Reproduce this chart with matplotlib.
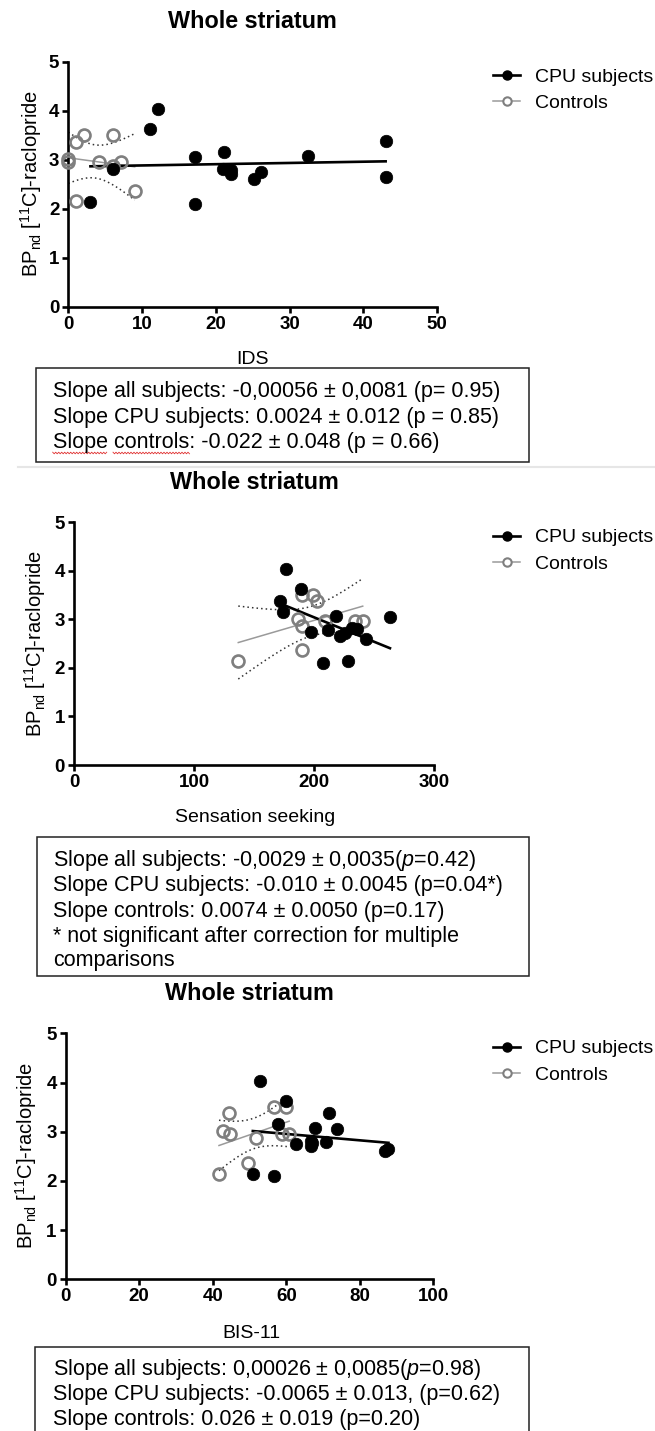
import numpy as np
import matplotlib
matplotlib.use("Agg")
import matplotlib.pyplot as plt
from matplotlib.lines import Line2D
from matplotlib.patches import Rectangle

plt.rcParams['font.family'] = ['Liberation Sans', 'DejaVu Sans']
plt.rcParams['mathtext.fontset'] = 'custom'
plt.rcParams['mathtext.rm'] = 'Liberation Sans'
plt.rcParams['mathtext.it'] = 'Liberation Sans:italic'
plt.rcParams['mathtext.bf'] = 'Liberation Sans:bold'

# ---------------- data ----------------
# Panel 1: IDS
ids_cpu_x = [3.0, 6.1, 11.1, 12.1, 17.2, 17.2, 21.1, 21.0, 22.0, 22.0, 25.1, 26.1, 32.5, 43.0, 43.0]
ids_cpu_y = [2.14, 2.82, 3.62, 4.03, 3.05, 2.10, 3.16, 2.81, 2.79, 2.71, 2.60, 2.75, 3.07, 3.38, 2.65]
ids_ctl_x = [0.0, 0.0, 1.0, 1.1, 2.1, 4.1, 6.0, 6.1, 7.1, 9.0]
ids_ctl_y = [3.01, 2.96, 2.15, 3.36, 3.50, 2.96, 2.87, 3.50, 2.96, 2.37]

# Panel 2: Sensation seeking
ss_cpu_x = [171.7, 174.4, 176.4, 189.4, 197.5, 207.5, 211.9, 218.1, 221.7, 225.8, 228.2, 231.4, 235.6, 243.3, 263.3]
ss_cpu_y = [3.38, 3.16, 4.03, 3.63, 2.75, 2.10, 2.78, 3.07, 2.65, 2.71, 2.14, 2.82, 2.80, 2.60, 3.05]
ss_ctl_x = [189.7, 199.4, 202.8, 186.4, 189.7, 190.3, 136.9, 209.2, 234.2, 240.6]
ss_ctl_y = [3.50, 3.50, 3.37, 3.01, 2.87, 2.37, 2.14, 2.96, 2.96, 2.96]

# Panel 3: BIS-11
bis_cpu_x = [52.9, 59.8, 71.7, 57.7, 67.8, 73.7, 62.6, 66.7, 66.7, 70.8, 87.8, 86.9, 50.9, 56.8, 67.0]
bis_cpu_y = [4.03, 3.63, 3.38, 3.16, 3.07, 3.05, 2.75, 2.82, 2.71, 2.80, 2.65, 2.60, 2.14, 2.10, 2.78]
bis_ctl_x = [44.5, 42.7, 44.7, 51.8, 49.7, 41.7, 56.8, 59.9, 58.8, 60.8]
bis_ctl_y = [3.37, 3.01, 2.96, 2.87, 2.37, 2.14, 3.50, 3.50, 2.96, 2.96]

x_labels = ["IDS", "Sensation seeking", "BIS-11"]
x_limits = [50, 300, 100]
x_steps = [10, 100, 20]
legend_labels = ["CPU subjects", "Controls"]
title_text = "Whole striatum"
y_label = r"BP$_\mathrm{nd}$ [$^\mathrm{11}$C]-raclopride"

box_texts = [
    ["Slope all subjects: -0,00056 \u00b1 0,0081 (p= 0.95)",
     "Slope CPU subjects: 0.0024 \u00b1 0.012 (p = 0.85)",
     "Slope controls: -0.022 \u00b1 0.048 (p = 0.66)"],
    ["Slope all subjects: -0,0029 \u00b1 0,0035($\\it{p}$=0.42)",
     "Slope CPU subjects: -0.010 \u00b1 0.0045 (p=0.04*)",
     "Slope controls: 0.0074 \u00b1 0.0050 (p=0.17)",
     "* not significant after correction for multiple",
     "comparisons"],
    ["Slope all subjects: 0,00026 \u00b1 0,0085($\\it{p}$=0.98)",
     "Slope CPU subjects: -0.0065 \u00b1 0.013, (p=0.62)",
     "Slope controls: 0.026 \u00b1 0.019 (p=0.20)"],
]

# t critical values (two-sided 95%) by degrees of freedom
T_CRIT = {8: 2.306, 9: 2.262, 12: 2.179, 13: 2.160}

# ---------------- layout (pixels) ----------------
W, H = 655, 1431
fig = plt.figure(figsize=(W / 100, H / 100), dpi=100)

def fx(x):
    return x / W

def fy(y):
    return 1 - y / H

# axes boxes: left, right, top, bottom in px
axes_px = [(68.3, 437.3, 61.7, 306.7),
           (74.0, 434.0, 522.3, 765.0),
           (65.7, 433.3, 1033.3, 1279.3)]
title_base = [28, 489.3, 1000]
xlabel_pos = [(252, 364), (255, 822), (251, 1338.5)]
ylabel_pos = [(31, 183.5), (35, 643.5), (26, 1155.5)]
box_px = [(36, 529, 368, 462), (36.7, 529, 836.7, 975.7), (35, 529, 1346.7, 1445)]
box_lines_y = [[397.3, 423, 448.3], [866, 891.5, 917, 942, 966], [1375, 1400, 1425]]

datasets = [(ids_cpu_x, ids_cpu_y, ids_ctl_x, ids_ctl_y),
            (ss_cpu_x, ss_cpu_y, ss_ctl_x, ss_ctl_y),
            (bis_cpu_x, bis_cpu_y, bis_ctl_x, bis_ctl_y)]

GREY = '#7f7f7f'


def fit_line(x, y):
    x = np.asarray(x, float)
    y = np.asarray(y, float)
    b, a = np.polyfit(x, y, 1)
    xs = np.linspace(x.min(), x.max(), 200)
    n = len(x)
    resid = y - (a + b * x)
    s = np.sqrt(np.sum(resid ** 2) / (n - 2))
    sxx = np.sum((x - x.mean()) ** 2)
    t = T_CRIT[n - 2]
    hw = t * s * np.sqrt(1 / n + (xs - x.mean()) ** 2 / sxx)
    yl = a + b * xs
    return xs, yl, yl - hw, yl + hw


for i, (cx, cy, kx, ky) in enumerate(datasets):
    l, r, t, b = axes_px[i]
    ax = fig.add_axes([fx(l), fy(b), fx(r - l), (b - t) / H])
    ax.set_xlim(0, x_limits[i])
    ax.set_ylim(0, 5)
    ax.set_xticks(np.arange(0, x_limits[i] + 1, x_steps[i]))
    ax.set_yticks(np.arange(0, 6, 1))
    for sp in ['top', 'right']:
        ax.spines[sp].set_visible(False)
    for sp in ['left', 'bottom']:
        ax.spines[sp].set_linewidth(1.9)
    ax.tick_params(axis='both', length=4.5, width=1.9, labelsize=13.5, pad=2.0)
    for lab in ax.get_xticklabels() + ax.get_yticklabels():
        lab.set_fontweight('bold')

    # controls fit + CI band
    xs, yl, lo, hi = fit_line(kx, ky)
    ax.plot(xs, lo, color='#333333', lw=1.1, ls=(0, (1, 2)), zorder=2)
    ax.plot(xs, hi, color='#333333', lw=1.1, ls=(0, (1, 2)), zorder=2)
    ax.plot(xs, yl, color='#9a9a9a', lw=1.1, zorder=2)
    # CPU fit
    xs2, yl2, _, _ = fit_line(cx, cy)
    ax.plot(xs2, yl2, color='black', lw=1.9, zorder=3)

    ax.plot(kx, ky, ls='none', marker='o', ms=8.6, mfc='none', mec=GREY, mew=1.9,
            zorder=4, clip_on=False)
    ax.plot(cx, cy, ls='none', marker='o', ms=9.0, mfc='black', mec='black', mew=0.5,
            zorder=5, clip_on=False)

    handles = [Line2D([], [], color='black', lw=1.9, marker='o', ms=6.5, mfc='black', mec='black'),
               Line2D([], [], color='#9a9a9a', lw=1.1, marker='o', ms=6, mfc='white', mec=GREY, mew=1.5)]
    fig.legend(handles, legend_labels, loc='upper left',
               bbox_to_anchor=(fx(493), fy(t + 6.5)), bbox_transform=fig.transFigure,
               frameon=False, borderpad=0, borderaxespad=0, handlelength=1.4,
               handletextpad=0.75, labelspacing=0.45, fontsize=14)

    # title, axis labels
    fig.text(fx((l + r) / 2), fy(title_base[i]), title_text, ha='center', va='baseline',
             fontsize=16.8, fontweight='bold')
    fig.text(fx(xlabel_pos[i][0]), fy(xlabel_pos[i][1]), x_labels[i], ha='center',
             va='baseline', fontsize=14)
    fig.text(fx(ylabel_pos[i][0]), fy(ylabel_pos[i][1]), y_label, ha='center', va='center',
             rotation=90, fontsize=14.5)

    # text box
    bl, br, bt, bb = box_px[i]
    fig.patches.append(Rectangle((fx(bl), fy(bb)), fx(br - bl), (bb - bt) / H,
                                 transform=fig.transFigure, fill=False, ec='#222222',
                                 lw=1.1, clip_on=False))
    for j, line in enumerate(box_texts[i]):
        fig.text(fx(52.7), fy(box_lines_y[i][j]), line, ha='left', va='baseline', fontsize=15.5)

# spell-check style red wavy underline under "Slope controls" (first box)
for x0, x1 in [(52.7, 108.0), (113.0, 190.0)]:
    wx = np.arange(x0, x1 + 0.1, 1.5)
    wy = 453.0 + np.where(np.arange(len(wx)) % 2 == 0, -0.8, 0.8)
    fig.add_artist(Line2D(fx(wx), fy(wy), color='#e03030', lw=0.6,
                          transform=fig.transFigure))

# light separator line below the first box
fig.add_artist(Line2D([fx(18), fx(655)], [fy(467), fy(467)], color='#e6e6e6', lw=1.5,
                      transform=fig.transFigure))

fig.savefig('out.png', dpi=100)
